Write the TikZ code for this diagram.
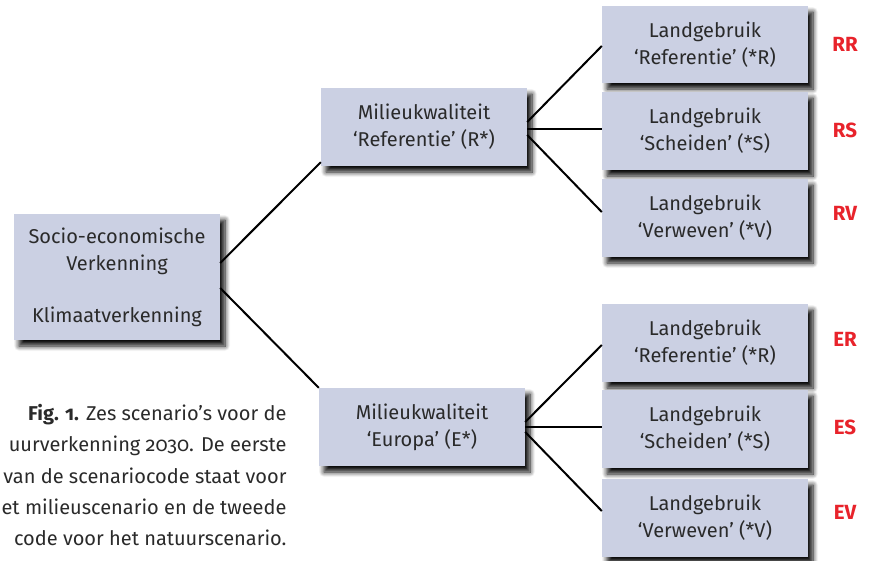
\documentclass[tikz,border=0pt]{standalone}
\usepackage{fontspec}
\setmainfont[Numbers=OldStyle]{Fira Sans}
\usetikzlibrary{calc,shadows.blur}
\definecolor{boxfill}{HTML}{CBD0E3}
\definecolor{txt}{HTML}{2A2A2A}
\definecolor{codered}{HTML}{E8232B}
\tikzset{
  box/.style={draw=none, fill=boxfill, text=txt, align=center,
    minimum width=206pt, inner sep=0pt,
    font=\fontsize{20}{27}\selectfont,
    blur shadow={shadow xshift=5pt, shadow yshift=-6pt, shadow blur radius=5pt, shadow opacity=95, shadow blur steps=8}},
  code/.style={text=codered, font=\fontsize{20.5}{22}\selectfont\bfseries, anchor=center},
  conn/.style={draw=black, line width=2pt},
  capt/.style={text=txt, font=\fontsize{20}{31.2}\selectfont, align=right, anchor=north east}
}
\begin{document}
\begin{tikzpicture}[x=1pt,y=-1pt]
\useasboundingbox (0,0) rectangle (870,560);
% boxes
\node[box, minimum height=126pt] (root) at (117,277) {Socio-economische\\Verkenning\\[25pt]Klimaatverkenning};
\node[box, minimum height=78pt] (mR) at (424,127) {Milieukwaliteit\\‘Referentie’ (R*)};
\node[box, minimum height=78pt] (mE) at (422,427) {Milieukwaliteit\\‘Europa’ (E*)};
\node[box, minimum height=77pt] (lRR) at (705,44.5) {Landgebruik\\‘Referentie’ (*R)};
\node[box, minimum height=78pt] (lRS) at (705,131) {Landgebruik\\‘Scheiden’ (*S)};
\node[box, minimum height=78pt] (lRV) at (705,218) {Landgebruik\\‘Verweven’ (*V)};
\node[box, minimum height=78pt] (lER) at (705,343) {Landgebruik\\‘Referentie’ (*R)};
\node[box, minimum height=78pt] (lES) at (705,429) {Landgebruik\\‘Scheiden’ (*S)};
\node[box, minimum height=78pt] (lEV) at (705,518) {Landgebruik\\‘Verweven’ (*V)};
% codes
\node[code] (cRR) at (845,44) {RR};
\node[code] (cRS) at (845,130) {RS};
\node[code] (cRV) at (845,213) {RV};
\node[code] (cER) at (845,339) {ER};
\node[code] (cES) at (845,427) {ES};
\node[code] (cEV) at (845,512) {EV};
% connectors
\draw[conn] ($(root.east)+(0,-14)$) -- ($(mR.south west)+(0,-4)$);
\draw[conn] ($(root.east)+(0,11)$) -- ($(mE.north west)+(0,0)$);
\draw[conn] ($(mR.east)+(0,-5)$) -- ($(lRR.west)+(0,1.5)$);
\draw[conn] ($(mR.east)+(0,2)$) -- ($(lRS.west)+(0,-2)$);
\draw[conn] ($(mR.east)+(0,8)$) -- ($(lRV.west)+(0,-6)$);
\draw[conn] ($(mE.east)+(0,-5)$) -- ($(lER.west)+(0,2)$);
\draw[conn] ($(mE.east)+(0,0)$) -- ($(lES.west)+(0,-2)$);
\draw[conn] ($(mE.east)+(0,5)$) -- ($(lEV.west)+(0,-7)$);
% caption
\node[capt] (cap) at (290,401) {\textbf{Fig. 1.} Zes scenario’s voor de\\uurverkenning 2030. De eerste\\van de scenariocode staat voor\\et milieuscenario en de tweede\\code voor het natuurscenario.};
\end{tikzpicture}
\end{document}
